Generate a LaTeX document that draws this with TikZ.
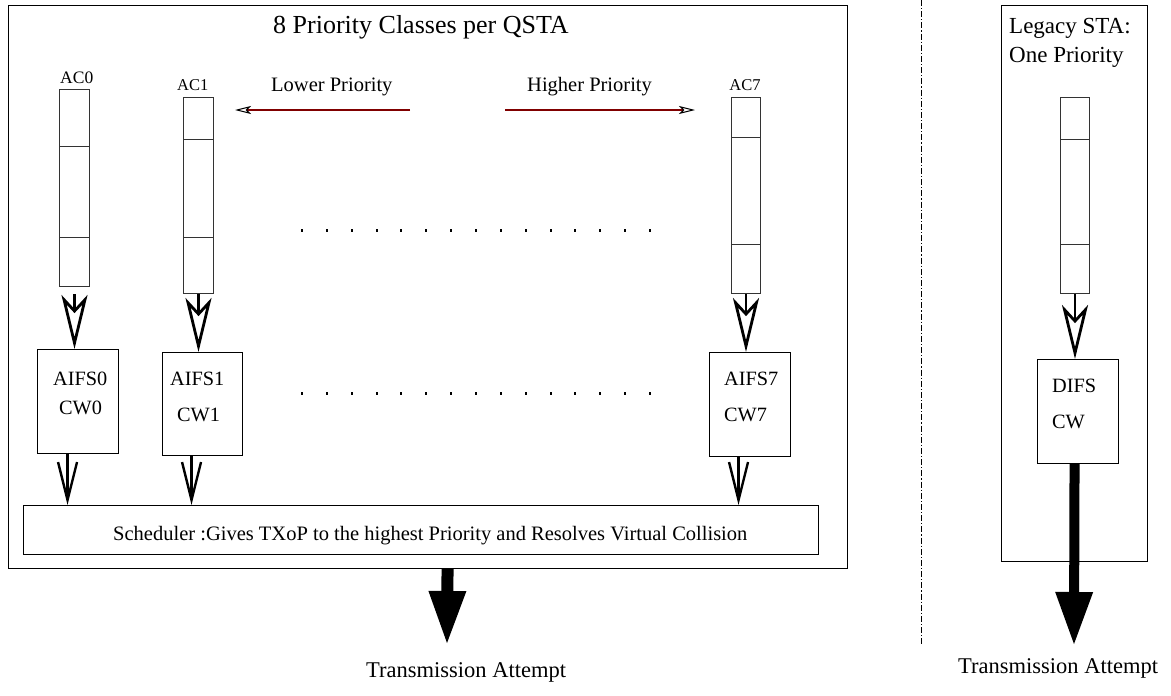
\documentclass[tikz,border=0pt]{standalone}
\usepackage{fontspec}
\setmainfont{Liberation Serif}
\usetikzlibrary{arrows.meta,calc}
\definecolor{darkred}{RGB}{128,0,0}
\begin{document}
\begin{tikzpicture}[x=1pt,y=-1pt,
  box/.style={draw, line width=1.1pt, inner sep=0pt, anchor=north west},
  queue/.style={draw=black!80, line width=1pt, inner sep=0pt, anchor=north west},
  lbl/.style={inner sep=0pt, anchor=base west, font=\fontsize{20.5}{24}\selectfont},
  holl/.style={line width=2.8pt, -{Stealth[open,length=54pt,width=26pt,inset=14pt]}},
  vee/.style={line width=2.4pt, -{Straight Barb[length=38pt,width=19pt]}},
  big/.style={-{Triangle[length=52pt,width=38pt,line width=0pt]}},
  prio/.style={draw=darkred, line width=1.3pt, -{Stealth[open,black,length=16pt,width=8pt,inset=4pt,line width=1pt]}},
  divl/.style={draw=black!80, line width=1pt},
  sepline/.style={line width=0.9pt, dash pattern=on 6pt off 2pt on 1.2pt off 2pt}
]
\useasboundingbox (0,0) rectangle (1171,696);

% outer boxes
\node[box, minimum width=839pt, minimum height=563pt] (main) at (8,5) {};
\node[box, minimum width=146pt, minimum height=556pt] (legacy) at (1001,5) {};

% separator
\coordinate (sepA) at (921,0);
\coordinate (sepB) at (921,645);
\draw[sepline] (sepA) -- (sepB);

% titles
\node[lbl, font=\fontsize{26}{30}\selectfont] (title) at (273,33) {8 Priority Classes per QSTA};
\node[lbl, font=\fontsize{23}{27}\selectfont] (leg1) at (1009,33) {Legacy STA:};
\node[lbl, font=\fontsize{23}{27}\selectfont] (leg2) at (1009,62) {One Priority};

% priority arrows
\node[lbl] (lowt) at (271,91) {Lower Priority};
\node[lbl] (hight) at (527,91) {Higher Priority};
\coordinate (lowA) at (410,110);
\coordinate (lowB) at (235,110);
\coordinate (highA) at (505,110);
\coordinate (highB) at (695,110);
\draw[prio] (lowA) -- (lowB);
\draw[prio] (highA) -- (highB);

% queues
\node[queue, minimum width=30pt, minimum height=197pt] (q0) at (59,89) {};
\node[queue, minimum width=30pt, minimum height=196pt] (q1) at (183,97) {};
\node[queue, minimum width=29pt, minimum height=196pt] (q7) at (731,97) {};
\node[queue, minimum width=29pt, minimum height=196pt] (ql) at (1060,97) {};
\draw[divl] (q0.west |- 0,146) -- (q0.east |- 0,146);
\draw[divl] (q0.west |- 0,237) -- (q0.east |- 0,237);
\draw[divl] (q1.west |- 0,139) -- (q1.east |- 0,139);
\draw[divl] (q1.west |- 0,237) -- (q1.east |- 0,237);
\draw[divl] (q7.west |- 0,137) -- (q7.east |- 0,137);
\draw[divl] (q7.west |- 0,244) -- (q7.east |- 0,244);
\draw[divl] (ql.west |- 0,139) -- (ql.east |- 0,139);
\draw[divl] (ql.west |- 0,244) -- (ql.east |- 0,244);

\node[inner sep=0pt, anchor=base west, font=\fontsize{17.5}{20}\selectfont] (ac0) at (60,83) {AC0};
\node[inner sep=0pt, anchor=base west, font=\fontsize{16.5}{20}\selectfont] (ac1) at (177,90) {AC1};
\node[inner sep=0pt, anchor=base, font=\fontsize{16.5}{20}\selectfont] (ac7) at (745,90) {AC7};

% AIFS boxes
\node[box, minimum width=81pt, minimum height=104pt] (a0) at (37,349) {};
\node[box, minimum width=80pt, minimum height=103pt] (a1) at (162,352) {};
\node[box, minimum width=81pt, minimum height=104pt] (a7) at (709,352) {};
\node[box, minimum width=81pt, minimum height=104pt] (dfs) at (1037,359) {};
\node[lbl, font=\fontsize{20.3}{24}\selectfont] (t0a) at (53,385) {AIFS0};
\node[lbl, font=\fontsize{20.3}{24}\selectfont] (t0b) at (59,414) {CW0};
\node[lbl, font=\fontsize{20.3}{24}\selectfont] (t1a) at (170,385) {AIFS1};
\node[lbl, font=\fontsize{20.3}{24}\selectfont] (t1b) at (177,421) {CW1};
\node[lbl, font=\fontsize{20.3}{24}\selectfont] (t7a) at (724,385) {AIFS7};
\node[lbl, font=\fontsize{20.3}{24}\selectfont] (t7b) at (724,421) {CW7};
\node[lbl, font=\fontsize{20.3}{24}\selectfont] (tda) at (1052,392) {DIFS};
\node[lbl, font=\fontsize{20.3}{24}\selectfont] (tdb) at (1052,428) {CW};

% hollow arrows
\draw[holl] ([yshift=-7pt]q0.south) -- (q0.south |- a0.north);
\draw[holl] (q1.south) -- (q1.south |- a1.north);
\draw[holl] (q7.south) -- (q7.south |- a7.north);
\draw[holl] (ql.south) -- (ql.south |- dfs.north);

% scheduler
\node[box, minimum width=795pt, minimum height=49pt] (sch) at (23,505) {};
\node[lbl] (scht) at (113,540) {Scheduler :Gives TXoP to the highest Priority and Resolves Virtual Collision};

% V arrows
\draw[vee] ([xshift=-10.5pt]a0.south) -- ([xshift=-10.5pt]a0.south |- sch.north);
\draw[vee] ([xshift=-11pt]a1.south) -- ([xshift=-11pt]a1.south |- sch.north);
\draw[vee] ([xshift=-11.5pt]a7.south) -- ([xshift=-11.5pt]a7.south |- sch.north);

% dots
\foreach \i in {0,...,14} {
  \fill (302+\i*24.857-1,229) rectangle ++(2,2.5);
  \fill (302+\i*24.857-1,392) rectangle ++(2,2.5);
}

% transmission arrows
\coordinate (tip1) at (447,643);
\coordinate (tip2) at (1074,644);
\draw[big, line width=12pt] ([xshift=19.5pt]main.south) -- (tip1);
\draw[big, line width=10pt] ([xshift=-3.5pt]dfs.south) -- (tip2);
\node[lbl, font=\fontsize{22.5}{26}\selectfont] (tx1) at (366,677) {Transmission Attempt};
\node[lbl, font=\fontsize{22.5}{26}\selectfont] (tx2) at (958,673) {Transmission Attempt};
\end{tikzpicture}
\end{document}
